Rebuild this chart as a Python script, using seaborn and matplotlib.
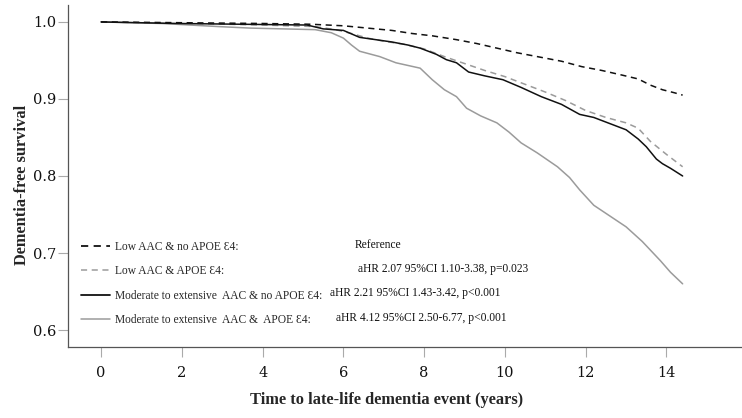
import numpy as np
import pandas as pd
import seaborn as sns
import matplotlib.pyplot as plt
from matplotlib.lines import Line2D
from matplotlib.ticker import FormatStrFormatter

# group labels and adjusted hazard ratios shown in the key
groups = ['Low AAC & no APOE \u01904:',
          'Low AAC & APOE \u01904:',
          'Moderate to extensive  AAC & no APOE \u01904:',
          'Moderate to extensive  AAC &  APOE \u01904:']
stats = ['Reference',
         'aHR 2.07 95%CI 1.10-3.38, p=0.023',
         'aHR 2.21 95%CI 1.43-3.42, p<0.001',
         'aHR 4.12 95%CI 2.50-6.77, p<0.001']

# survival curves (years, survival)
t_low_noapoe = [0, 2.0, 4.0, 5.2, 6.0, 6.6, 7.2, 7.7, 8.2, 8.8, 9.3, 9.8, 10.3, 10.8,
                11.4, 11.9, 12.4, 12.9, 13.3, 13.6, 13.9, 14.2, 14.4]
s_low_noapoe = [1.0, 0.999, 0.998, 0.997, 0.995, 0.992, 0.989, 0.985, 0.982, 0.977, 0.972,
                0.966, 0.960, 0.955, 0.949, 0.942, 0.937, 0.931, 0.926, 0.918, 0.912, 0.908, 0.905]

t_low_apoe = [0, 2.2, 4.0, 5.3, 5.8, 6.2, 6.6, 7.0, 7.5, 8.0, 8.5, 9.0, 9.5, 10.0, 10.5,
              11.0, 11.5, 12.0, 12.5, 13.0, 13.3, 13.6, 14.0, 14.4]
s_low_apoe = [1.0, 0.998, 0.996, 0.994, 0.990, 0.985, 0.979, 0.975, 0.971, 0.965, 0.955,
              0.946, 0.937, 0.929, 0.919, 0.909, 0.898, 0.885, 0.876, 0.869, 0.862, 0.845,
              0.828, 0.812]

t_mod_noapoe = [0, 1.9, 3.5, 5.1, 5.5, 6.0, 6.4, 6.8, 7.2, 7.6, 7.9, 8.3, 8.55, 8.8, 9.1,
                9.5, 9.95, 10.4, 10.9, 11.4, 11.85, 12.2, 12.6, 13.0, 13.3, 13.5, 13.75,
                13.9, 14.1, 14.4]
s_mod_noapoe = [1.0, 0.998, 0.997, 0.996, 0.991, 0.989, 0.980, 0.977, 0.974, 0.970, 0.966,
                0.958, 0.951, 0.947, 0.935, 0.930, 0.925, 0.915, 0.903, 0.893, 0.880, 0.876,
                0.868, 0.860, 0.848, 0.838, 0.822, 0.816, 0.810, 0.800]

t_mod_apoe = [0, 1.5, 2.9, 3.7, 5.3, 5.7, 6.0, 6.2, 6.4, 6.9, 7.3, 7.9, 8.2, 8.5, 8.8, 9.05,
              9.4, 9.8, 10.1, 10.4, 10.8, 11.3, 11.6, 11.85, 12.2, 12.6, 13.0, 13.4, 13.85,
              14.1, 14.4]
s_mod_apoe = [1.0, 0.998, 0.994, 0.992, 0.990, 0.986, 0.979, 0.970, 0.962, 0.955, 0.947,
              0.940, 0.925, 0.912, 0.903, 0.888, 0.878, 0.869, 0.857, 0.843, 0.830, 0.812,
              0.798, 0.782, 0.762, 0.748, 0.734, 0.715, 0.690, 0.675, 0.660]

sns.set_style('ticks')
plt.rcParams['font.family'] = ['Liberation Serif', 'DejaVu Serif']

fig = plt.figure(figsize=(7.42, 4.18), dpi=100)
ax = fig.add_axes([68/742, 1-347/418, 674/742, 342/418])

gray = '#9b9b9b'
black = '#111111'
dash = (0, (4, 3))
curves = [(t_mod_apoe, s_mod_apoe, gray, '-'),
          (t_low_apoe, s_low_apoe, gray, dash),
          (t_mod_noapoe, s_mod_noapoe, black, '-'),
          (t_low_noapoe, s_low_noapoe, black, dash)]
for t, s, c, ls in curves:
    sns.lineplot(x=t, y=s, ax=ax, color=c, linestyle=ls, linewidth=1.1,
                 estimator=None, sort=False)

ax.set_xlim(-0.82, 15.87)
ax.set_ylim(0.578, 1.022)
ax.set_xticks(np.arange(0, 15, 2))
ax.set_yticks([0.6, 0.7, 0.8, 0.9, 1.0])
ax.yaxis.set_major_formatter(FormatStrFormatter('%.1f'))
sns.despine(ax=ax)
for sp in ['left', 'bottom']:
    ax.spines[sp].set_color('#555555')
    ax.spines[sp].set_linewidth(0.9)
ax.tick_params(axis='both', length=7, width=0.8, color='#aaaaaa',
               labelcolor='#111111')
ax.tick_params(axis='x', pad=7)
ax.tick_params(axis='y', pad=1.5)
for lab in ax.get_xticklabels() + ax.get_yticklabels():
    lab.set_family(['DejaVu Serif'])
    lab.set_fontsize(10.5)

ax.set_xlabel('Time to late-life dementia event (years)', fontsize=11.8,
              fontweight='bold')
ax.set_ylabel('Dementia-free survival', fontsize=11.8, fontweight='bold')
ax.xaxis.set_label_coords((387-68)/674, -0.133)
ax.yaxis.set_label_coords(-0.056, (347-185)/342)

handles = [Line2D([], [], color=black, linestyle=dash, linewidth=1.3),
           Line2D([], [], color=gray, linestyle=dash, linewidth=1.1),
           Line2D([], [], color=black, linestyle='-', linewidth=1.3),
           Line2D([], [], color=gray, linestyle='-', linewidth=1.1)]
ax.legend(handles, groups, loc='upper left', bbox_to_anchor=(0.02, 0.311),
          frameon=False, fontsize=8.3, handlelength=2.5, handletextpad=0.45,
          labelspacing=1.08, borderpad=0, borderaxespad=0)

stat_x = [0.426, 0.430, 0.389, 0.398]
stat_y = [0.298, 0.228, 0.158, 0.085]
for x, y, txt in zip(stat_x, stat_y, stats):
    ax.text(x, y, txt, transform=ax.transAxes, fontsize=8.3, va='center', ha='left',
            color='#111111')

fig.savefig('out.png', dpi=100)
